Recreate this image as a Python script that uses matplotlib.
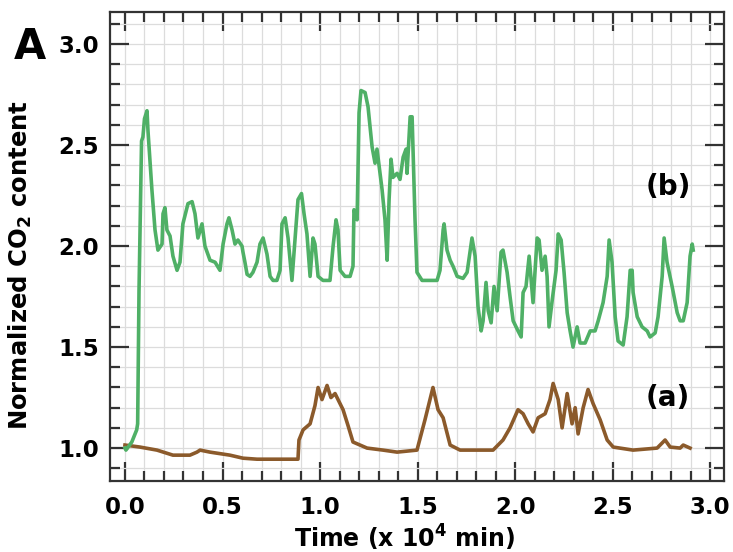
import matplotlib
matplotlib.use("Agg")
import matplotlib.pyplot as plt
from matplotlib.ticker import MultipleLocator

plt.rcParams['font.family'] = ['DejaVu Sans']
plt.rcParams['mathtext.fontset'] = 'dejavusans'

# Series (b): green
b_x = [0.000, 0.005, 0.035, 0.060, 0.065, 0.072, 0.085, 0.092, 0.100, 0.113, 0.118, 0.138,
       0.154, 0.169, 0.190, 0.195, 0.205, 0.215, 0.231, 0.246, 0.267, 0.282, 0.297, 0.323,
       0.344, 0.359, 0.374, 0.395, 0.410, 0.436, 0.462, 0.487, 0.503, 0.523, 0.533, 0.549,
       0.564, 0.579, 0.600, 0.605, 0.615, 0.626, 0.641, 0.656, 0.677, 0.692, 0.708, 0.728,
       0.744, 0.759, 0.779, 0.795, 0.805, 0.821, 0.836, 0.856, 0.872, 0.887, 0.905, 0.918,
       0.933, 0.949, 0.964, 0.974, 0.990, 1.015, 1.051, 1.067, 1.082, 1.092, 1.103, 1.128,
       1.154, 1.169, 1.174, 1.190, 1.200, 1.210, 1.231, 1.246, 1.267, 1.282, 1.292, 1.318,
       1.333, 1.344, 1.354, 1.364, 1.374, 1.395, 1.410, 1.426, 1.441, 1.446, 1.462, 1.472,
       1.487, 1.497, 1.523, 1.600, 1.615, 1.631, 1.636, 1.651, 1.667, 1.682, 1.703, 1.733,
       1.754, 1.779, 1.795, 1.810, 1.826, 1.836, 1.851, 1.862, 1.877, 1.892, 1.908, 1.928,
       1.938, 1.959, 1.974, 1.990, 2.015, 2.031, 2.041, 2.056, 2.072, 2.092, 2.113, 2.123,
       2.138, 2.154, 2.164, 2.174, 2.190, 2.210, 2.221, 2.236, 2.251, 2.267, 2.282, 2.297,
       2.318, 2.333, 2.359, 2.385, 2.410, 2.426, 2.451, 2.472, 2.482, 2.497, 2.513, 2.528,
       2.554, 2.574, 2.590, 2.600, 2.605, 2.626, 2.651, 2.677, 2.692, 2.718, 2.733, 2.754,
       2.764, 2.779, 2.805, 2.831, 2.846, 2.862, 2.882, 2.897, 2.908, 2.913]
b_y = [1.00, 0.99, 1.03, 1.09, 1.12, 1.78, 2.52, 2.54, 2.63, 2.67, 2.57, 2.28,
       2.08, 1.98, 2.01, 2.16, 2.19, 2.08, 2.05, 1.95, 1.88, 1.92, 2.11, 2.21,
       2.22, 2.16, 2.04, 2.11, 2.00, 1.93, 1.92, 1.88, 2.01, 2.11, 2.14, 2.08,
       2.01, 2.03, 2.00, 1.97, 1.92, 1.86, 1.85, 1.87, 1.92, 2.01, 2.04, 1.96,
       1.85, 1.83, 1.83, 1.88, 2.11, 2.14, 2.04, 1.83, 2.04, 2.23, 2.26, 2.16,
       2.06, 1.85, 2.04, 2.01, 1.85, 1.83, 1.83, 2.00, 2.13, 2.08, 1.88, 1.85,
       1.85, 1.90, 2.18, 2.13, 2.66, 2.77, 2.76, 2.69, 2.49, 2.41, 2.48, 2.28,
       2.13, 1.93, 2.23, 2.43, 2.34, 2.36, 2.33, 2.44, 2.48, 2.36, 2.64, 2.64,
       2.13, 1.87, 1.83, 1.83, 1.88, 2.08, 2.11, 1.98, 1.93, 1.90, 1.85, 1.84,
       1.87, 2.04, 1.95, 1.70, 1.58, 1.63, 1.82, 1.68, 1.62, 1.80, 1.68, 1.97,
       1.98, 1.87, 1.75, 1.63, 1.58, 1.55, 1.77, 1.80, 1.95, 1.72, 2.04, 2.03,
       1.88, 1.95, 1.85, 1.60, 1.73, 1.88, 2.06, 2.03, 1.87, 1.67, 1.58, 1.50,
       1.60, 1.52, 1.52, 1.58, 1.58, 1.63, 1.72, 1.85, 2.03, 1.92, 1.65, 1.53,
       1.51, 1.65, 1.88, 1.88, 1.77, 1.65, 1.60, 1.58, 1.55, 1.57, 1.65, 1.85,
       2.04, 1.92, 1.80, 1.67, 1.63, 1.63, 1.72, 1.95, 2.01, 1.98]

# Series (a): brown
a_x = [0.000, 0.077, 0.164, 0.246, 0.333, 0.369, 0.385, 0.436, 0.538, 0.605, 0.677, 0.887,
       0.892, 0.913, 0.949, 0.974, 0.990, 1.010, 1.036, 1.056, 1.077, 1.118, 1.144, 1.169,
       1.241, 1.323, 1.395, 1.497, 1.538, 1.579, 1.605, 1.631, 1.667, 1.718, 1.887, 1.938,
       1.974, 2.015, 2.041, 2.067, 2.092, 2.118, 2.154, 2.179, 2.195, 2.221, 2.241, 2.267,
       2.292, 2.308, 2.323, 2.349, 2.374, 2.400, 2.436, 2.472, 2.503, 2.605, 2.728, 2.769,
       2.795, 2.846, 2.862, 2.897]
a_y = [1.015, 1.005, 0.99, 0.965, 0.965, 0.98, 0.99, 0.98, 0.965, 0.95, 0.945, 0.945,
       1.04, 1.09, 1.12, 1.21, 1.30, 1.24, 1.31, 1.25, 1.27, 1.19, 1.11, 1.03,
       1.00, 0.99, 0.98, 0.99, 1.14, 1.30, 1.19, 1.15, 1.015, 0.99, 0.99, 1.04,
       1.10, 1.19, 1.17, 1.12, 1.08, 1.15, 1.17, 1.24, 1.32, 1.24, 1.10, 1.27,
       1.12, 1.20, 1.07, 1.20, 1.29, 1.22, 1.14, 1.04, 1.005, 0.99, 1.00, 1.04,
       1.005, 1.00, 1.015, 1.00]

x_ticks = [0.0, 0.5, 1.0, 1.5, 2.0, 2.5, 3.0]
y_ticks = [1.0, 1.5, 2.0, 2.5, 3.0]

fig = plt.figure(figsize=(7.33, 5.52), dpi=100)
ax = fig.add_axes([0.150, 0.1286, 0.838, 0.8494])

ax.plot(a_x, a_y, color='#8b5a2b', lw=2.6, solid_joinstyle='round', zorder=3)
ax.plot(b_x, b_y, color='#4fb066', lw=2.6, solid_joinstyle='round', zorder=3)

ax.set_xlim(-0.077, 3.072)
ax.set_ylim(0.837, 3.158)
ax.set_xticks(x_ticks)
ax.set_yticks(y_ticks)
ax.set_xticklabels([f"{v:.1f}" for v in x_ticks])
ax.set_yticklabels([f"{v:.1f}" for v in y_ticks])
ax.xaxis.set_minor_locator(MultipleLocator(0.1))
ax.yaxis.set_minor_locator(MultipleLocator(0.1))

ax.grid(which='both', color='#dcdcdc', lw=0.9, zorder=0)
ax.set_axisbelow(True)

ax.tick_params(which='both', direction='in', top=True, right=True,
               color='#333333', width=1.6)
ax.tick_params(which='major', length=14, labelsize=16.5, pad=8)
ax.tick_params(axis='x', which='major', pad=11)
ax.tick_params(which='minor', length=7)
for lab in ax.get_xticklabels() + ax.get_yticklabels():
    lab.set_fontweight('bold')
for sp in ax.spines.values():
    sp.set_color('#333333')
    sp.set_linewidth(1.6)

ax.set_xlabel('Time (x 10$^\\mathbf{4}$ min)', fontsize=17, fontweight='bold')
ax.set_ylabel('Normalized CO$_\\mathbf{2}$ content', fontsize=17.5, fontweight='bold')
ax.xaxis.set_label_coords(0.48, -0.090)
ax.yaxis.set_label_coords(-0.123, 0.46)

ax.text(2.785, 2.29, '(b)', fontsize=20, fontweight='bold', ha='center', va='center')
ax.text(2.785, 1.25, '(a)', fontsize=20, fontweight='bold', ha='center', va='center')
fig.text(0.041, 0.914, 'A', fontsize=30, fontweight='bold', ha='center', va='center')

fig.savefig('out.png', dpi=100)
